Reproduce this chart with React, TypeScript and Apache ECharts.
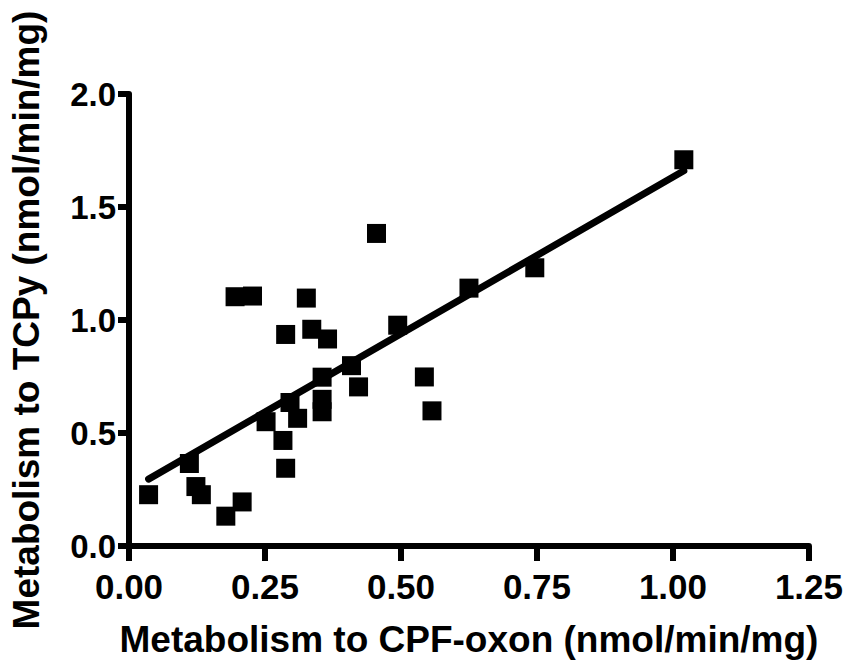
import React, { useEffect, useRef } from "react";
import * as echarts from "echarts";

// Metabolism to CPF-oxon (x) and to TCPy (y), nmol/min/mg
const oxonValues = [
  0.036, 0.111, 0.123, 0.133, 0.178, 0.208, 0.195, 0.227, 0.252, 0.283,
  0.288, 0.288, 0.296, 0.31, 0.326, 0.336, 0.355, 0.355, 0.355, 0.365,
  0.409, 0.422, 0.455, 0.494, 0.543, 0.557, 0.625, 0.746, 1.02,
];
const tcpyValues = [
  0.227, 0.365, 0.263, 0.227, 0.132, 0.195, 1.103, 1.106, 0.55, 0.467,
  0.344, 0.936, 0.635, 0.565, 1.097, 0.959, 0.747, 0.649, 0.594, 0.916,
  0.798, 0.704, 1.383, 0.977, 0.748, 0.598, 1.141, 1.231, 1.709,
];
// Regression line end points
const fitX = [0.036, 1.02];
const fitY = [0.296, 1.66];

const xTickLabels = ["0.00", "0.25", "0.50", "0.75", "1.00", "1.25"];
const yTickLabels = ["0.0", "0.5", "1.0", "1.5", "2.0"];

const xTitle = "Metabolism to CPF-oxon (nmol/min/mg)";
const yTitle = "Metabolism to TCPy (nmol/min/mg)";

const FONT = '"Liberation Sans", Arial, Helvetica, sans-serif';

export default function App() {
  const ref = useRef<HTMLDivElement>(null);

  useEffect(() => {
    if (!ref.current) return;
    const chart = echarts.init(ref.current, null, { renderer: "svg" });
    const points = oxonValues.map((x, i) => [x, tcpyValues[i]]);
    const fit = fitX.map((x, i) => [x, fitY[i]]);

    const axisLineStyle = { color: "#000", width: 6 };

    chart.setOption({
      animation: false,
      backgroundColor: "#fff",
      grid: { left: 126, right: 35, top: 94, bottom: 111, containLabel: false },
      xAxis: {
        type: "value",
        min: 0,
        max: 1.25,
        interval: 0.25,
        name: xTitle,
        nameLocation: "middle",
        nameGap: 75,
        nameTextStyle: {
          fontFamily: FONT,
          fontWeight: "bold",
          fontSize: 37,
          color: "#000",
        },
        axisLine: { show: true, onZero: false, lineStyle: axisLineStyle },
        axisTick: { show: true, length: 15, lineStyle: axisLineStyle },
        axisLabel: {
          margin: 23,
          fontFamily: FONT,
          fontWeight: "bold",
          fontSize: 35,
          color: "#000",
          formatter: (v: number) => xTickLabels[Math.round(v / 0.25)] ?? "",
        },
        splitLine: { show: false },
      },
      yAxis: {
        type: "value",
        min: 0,
        max: 2,
        interval: 0.5,
        name: yTitle,
        nameLocation: "middle",
        nameGap: 84,
        nameTextStyle: {
          fontFamily: FONT,
          fontWeight: "bold",
          fontSize: 37,
          color: "#000",
        },
        axisLine: { show: true, onZero: false, lineStyle: axisLineStyle },
        axisTick: { show: true, length: 11, lineStyle: axisLineStyle },
        axisLabel: {
          margin: 13,
          fontFamily: FONT,
          fontWeight: "bold",
          fontSize: 33,
          color: "#000",
          formatter: (v: number) => yTickLabels[Math.round(v / 0.5)] ?? "",
        },
        splitLine: { show: false },
      },
      series: [
        {
          type: "line",
          data: fit,
          symbol: "none",
          lineStyle: { color: "#000", width: 7, cap: "round" },
          silent: true,
          z: 2,
        },
        {
          type: "scatter",
          data: points,
          symbol: "rect",
          symbolSize: 19,
          itemStyle: { color: "#000", opacity: 1 },
          z: 3,
        },
      ],
    });

    return () => chart.dispose();
  }, []);

  return (
    <div
      ref={ref}
      style={{ position: "absolute", left: 0, top: 0, width: 846, height: 663, background: "#fff" }}
    />
  );
}
